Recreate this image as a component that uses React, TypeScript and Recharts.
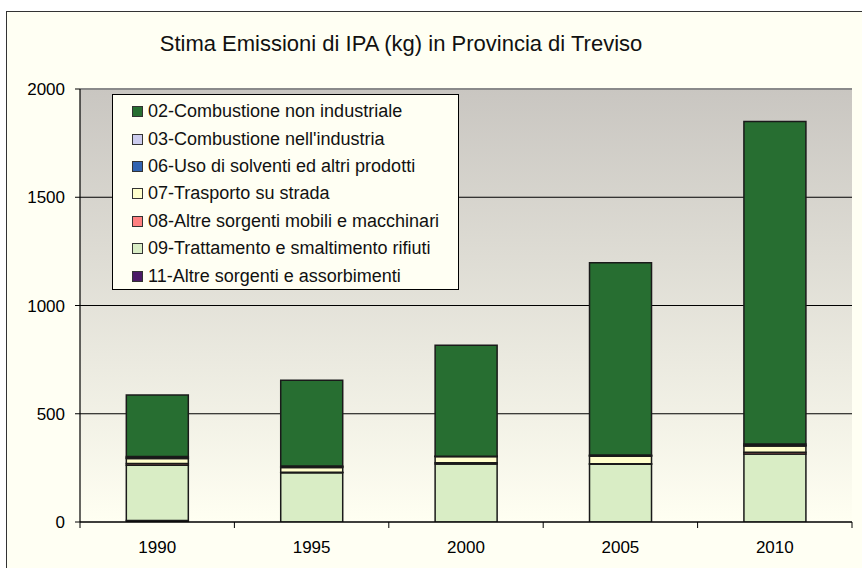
import { BarChart, Bar, XAxis, YAxis, CartesianGrid, Legend, ReferenceLine } from 'recharts';

const years = ['1990', '1995', '2000', '2005', '2010'];

// emissioni per macrosettore (kg)
const s02 = [285, 396, 512, 888, 1490];
const s03 = [5, 4, 1, 3, 5];
const s06 = [4, 3, 1, 2, 4];
const s07 = [23, 22, 28, 35, 29];
const s08 = [8, 2, 6, 2, 8];
const s09 = [255, 228, 268, 267, 314];
const s11 = [7, 0, 0, 0, 0];

const yTicks = [0, 500, 1000, 1500, 2000];

// ordine di impilamento: dal basso verso l'alto
const series = [
  { key: 's11', name: '11-Altre sorgenti e assorbimenti', color: '#4b1a66', values: s11 },
  { key: 's09', name: '09-Trattamento e smaltimento rifiuti', color: '#d9edc5', values: s09 },
  { key: 's08', name: '08-Altre sorgenti mobili e macchinari', color: '#ff8080', values: s08 },
  { key: 's07', name: '07-Trasporto su strada', color: '#ffffcc', values: s07 },
  { key: 's06', name: '06-Uso di solventi ed altri prodotti', color: '#3163b0', values: s06 },
  { key: 's03', name: "03-Combustione nell'industria", color: '#ccccee', values: s03 },
  { key: 's02', name: '02-Combustione non industriale', color: '#276e31', values: s02 },
];

const data = years.map((year, i) => {
  const row: Record<string, string | number> = { year };
  series.forEach((s) => {
    row[s.key] = s.values[i];
  });
  return row;
});

const FONT = '"Liberation Sans", Arial, sans-serif';
const BAND = (862 - 10 - 80) / years.length;

const XTick = (props: any) => {
  const { x, y, payload, index } = props;
  return (
    <g>
      <line x1={x - BAND / 2} y1={y} x2={x - BAND / 2} y2={y + 6} stroke="#000" />
      {index === years.length - 1 && (
        <line x1={x + BAND / 2} y1={y} x2={x + BAND / 2} y2={y + 6} stroke="#000" />
      )}
      <text x={x} y={y + 31} textAnchor="middle" fontSize={17} fontFamily={FONT} fill="#000">
        {payload.value}
      </text>
    </g>
  );
};

const LegendBox = () => (
  <div
    style={{
      width: 345,
      height: 191,
      border: '1px solid #000',
      background: '#fffff3',
      boxSizing: 'content-box',
      paddingTop: 3,
    }}
  >
    {[...series].reverse().map((s) => (
      <div key={s.key} style={{ display: 'flex', alignItems: 'center', height: 27.4, paddingLeft: 19 }}>
        <span
          style={{
            display: 'inline-block',
            width: 9,
            height: 9,
            background: s.color,
            border: '1px solid #333',
            marginRight: 5,
          }}
        />
        <span style={{ fontSize: 18, fontFamily: FONT, color: '#111', whiteSpace: 'nowrap' }}>{s.name}</span>
      </div>
    ))}
  </div>
);

export default function App() {
  return (
    <div style={{ position: 'absolute', left: 0, top: 0, width: 862, height: 568, background: '#fff', overflow: 'hidden' }}>
      <div
        style={{
          position: 'absolute',
          left: 6,
          top: 11,
          width: 900,
          height: 600,
          borderLeft: '1.5px solid #333',
          borderTop: '1.5px solid #333',
          background: '#fffff3',
        }}
      />
      <div
        style={{
          position: 'absolute',
          left: 0,
          top: 31,
          width: 802,
          textAlign: 'center',
          fontSize: 22,
          fontFamily: FONT,
          color: '#111',
        }}
      >
        Stima Emissioni di IPA (kg) in Provincia di Treviso
      </div>
      <div style={{ position: 'absolute', left: 0, top: 0 }}>
        <BarChart
          width={862}
          height={568}
          data={data}
          margin={{ top: 89, right: 10, bottom: 6, left: 0 }}
          barCategoryGap="30%"
        >
          <defs>
            <linearGradient id="plotBg" x1="0" y1="0" x2="0" y2="1">
              <stop offset="0%" stopColor="#c9c6c1" />
              <stop offset="100%" stopColor="#fffff2" />
            </linearGradient>
          </defs>
          <CartesianGrid vertical={false} stroke="#000" strokeWidth={1.2} fill="url(#plotBg)" fillOpacity={1} />
          <XAxis
            dataKey="year"
            height={40}
            axisLine={{ stroke: '#000', strokeWidth: 1.2 }}
            tickLine={false}
            tickSize={0}
            tickMargin={0}
            tick={<XTick />}
            interval={0}
          />
          <YAxis
            width={80}
            domain={[0, 2000]}
            ticks={yTicks}
            allowDataOverflow
            axisLine={{ stroke: '#000', strokeWidth: 1.2 }}
            tickLine={{ stroke: '#000' }}
            tickSize={5}
            tickMargin={10}
            tick={{ fontSize: 17, fontFamily: FONT, fill: '#000' }}
          />
          <YAxis
            yAxisId="right"
            orientation="right"
            width={0}
            tick={false}
            tickLine={false}
            axisLine={{ stroke: '#9a9a9a', strokeWidth: 1.5 }}
          />
          <ReferenceLine y={2000} stroke="#8a8a8a" strokeWidth={2} />
          {series.map((s) => (
            <Bar
              key={s.key}
              dataKey={s.key}
              name={s.name}
              stackId="a"
              fill={s.color}
              stroke="#1a1a1a"
              strokeWidth={1.5}
              isAnimationActive={false}
            />
          ))}
          <Legend
            layout="vertical"
            align="center"
            verticalAlign="middle"
            content={<LegendBox />}
            wrapperStyle={{ left: 112, top: 94, width: 'auto' }}
          />
        </BarChart>
      </div>
    </div>
  );
}
